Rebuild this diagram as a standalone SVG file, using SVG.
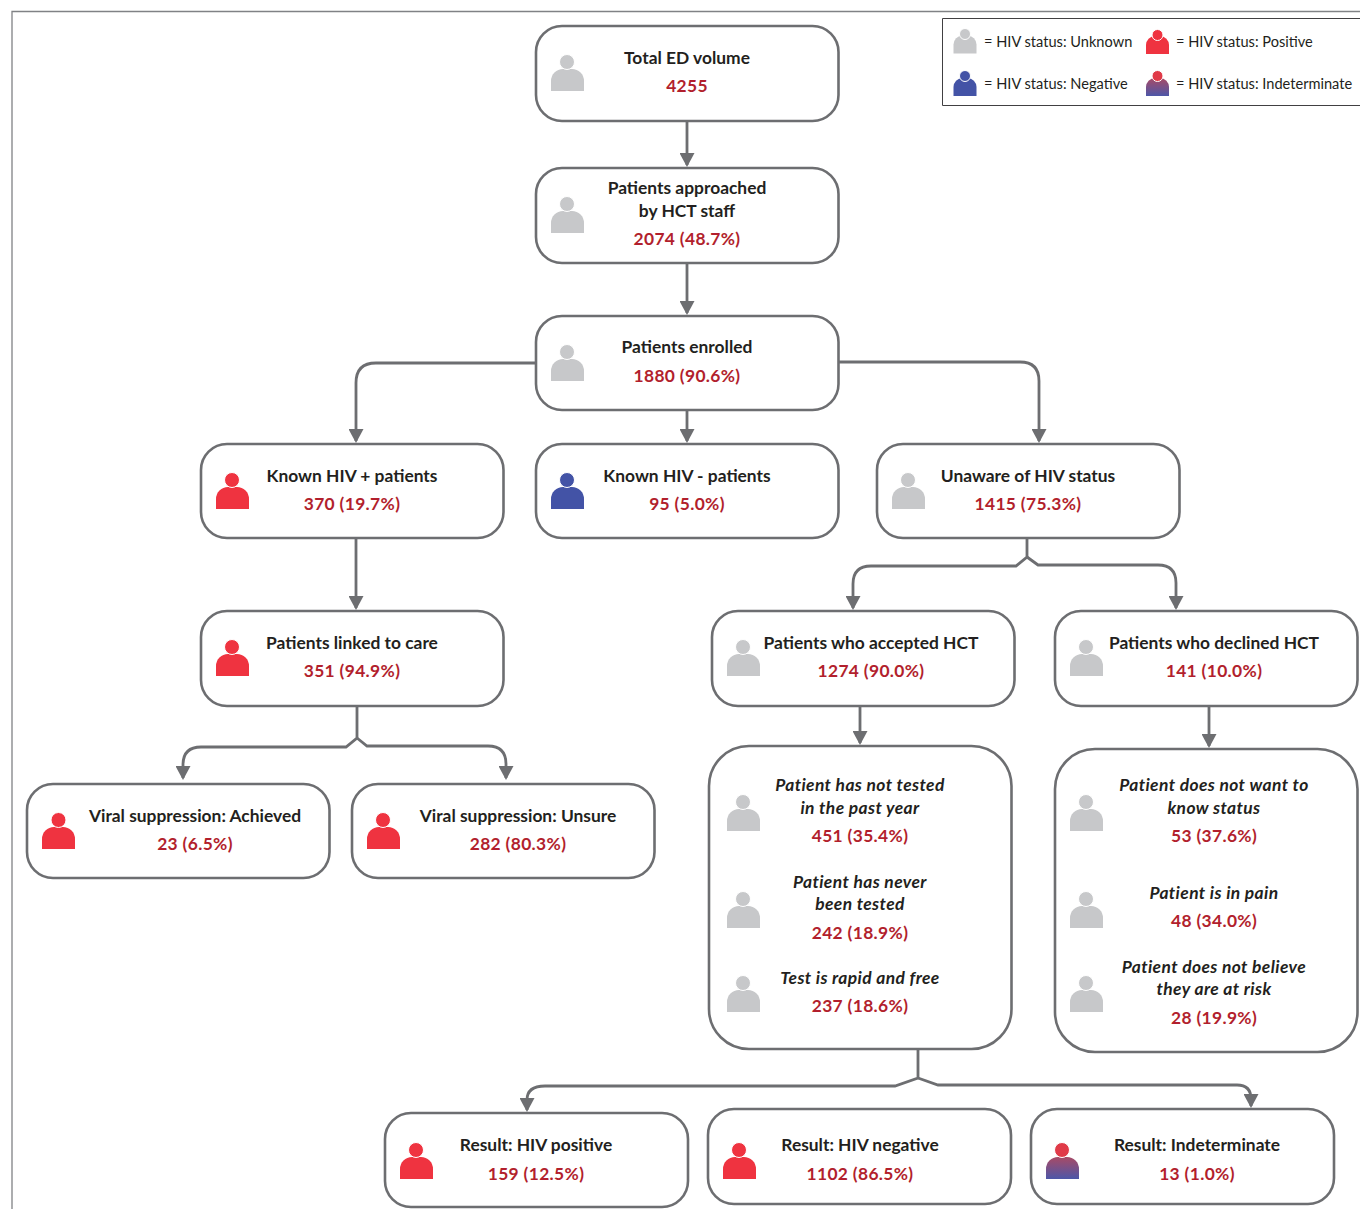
<svg xmlns="http://www.w3.org/2000/svg" width="1360" height="1209" viewBox="0 0 1360 1209">
<style>
.box{fill:#fff;stroke:#6d6e71;stroke-width:2.6}
.t{font-family:"Lato","Liberation Sans",sans-serif;font-size:17.4px;font-weight:700;fill:#231f20;text-anchor:middle}
.i{font-style:italic;letter-spacing:.4px}
.v{font-family:"Lato","Liberation Sans",sans-serif;font-size:17.4px;font-weight:700;fill:#b21f2d;text-anchor:middle;letter-spacing:.35px}
.l{font-family:"Lato","Liberation Sans",sans-serif;font-size:14.6px;fill:#231f20}
.c{fill:none;stroke:#6d6e71;stroke-width:2.8}
.u{fill:#c7c8ca}.p{fill:#ef3340}.n{fill:#4353a6}.x{fill:url(#mix)}
.h{stroke:#fff;stroke-width:1}
</style>
<defs>
<linearGradient id="mix" x1="0" y1="0" x2="0" y2="1"><stop offset="0" stop-color="#a84a66"/><stop offset="1" stop-color="#4d57a8"/></linearGradient>
<marker id="a" markerUnits="userSpaceOnUse" markerWidth="14" markerHeight="15" refX="12" refY="7.500" orient="auto" viewBox="0 0 14 15"><path d="M0 0L14 7.500L0 15Z" fill="#6d6e71"/></marker>
<path id="b" d="M0 36V26A12 12 0 0 1 12 14H21A12 12 0 0 1 33 26V36Z"/>
<path id="s" d="M0 19V10A9 9 0 0 1 9 1H14A9 9 0 0 1 23 10V19Z"/>
</defs>
<path d="M12 1209V11.500H1360" fill="none" stroke="#808285" stroke-width="1.300"/>
<g id="legend">
<path d="M1360 18.500H942.500V105.500H1360" fill="#fff" stroke="#414042" stroke-width="1"/>
<use href="#s" class="u" x="953.500" y="34.500"/><circle class="u h" cx="965" cy="34" r="5.500"/>
<use href="#s" class="p" x="1146" y="35"/><circle class="p h" cx="1157.500" cy="35" r="5.500"/>
<use href="#s" class="n" x="953.500" y="77"/><circle class="n h" cx="965" cy="76" r="5.500"/>
<use href="#s" class="x" x="1146" y="77"/><circle class="h" fill="#e03a48" cx="1157.500" cy="76" r="5.500"/>
<text class="l" x="984" y="47">= HIV status: Unknown</text>
<text class="l" x="1176" y="47">= HIV status: Positive</text>
<text class="l" x="984" y="89">= HIV status: Negative</text>
<text class="l" x="1176" y="89">= HIV status: Indeterminate</text>
</g>
<g id="connectors">
<path class="c" marker-end="url(#a)" d="M687 121V165"/>
<path class="c" marker-end="url(#a)" d="M687 263V313"/>
<path class="c" marker-end="url(#a)" d="M536 363H376Q356 363 356 383V441"/>
<path class="c" marker-end="url(#a)" d="M687 410V441"/>
<path class="c" marker-end="url(#a)" d="M838 362H1020Q1039 362 1039 381V441"/>
<path class="c" marker-end="url(#a)" d="M356 538V608"/>
<path class="c" marker-end="url(#a)" d="M1027 538V557L1016 566H871Q853 566 853 584V608"/>
<path class="c" marker-end="url(#a)" d="M1027 557L1038 565H1158Q1176 565 1176 583V608"/>
<path class="c" marker-end="url(#a)" d="M357 706V738L346 747H201Q183 747 183 765V778"/>
<path class="c" marker-end="url(#a)" d="M357 738L367 746H488Q506 746 506 764V778"/>
<path class="c" marker-end="url(#a)" d="M860 706V743"/>
<path class="c" marker-end="url(#a)" d="M1209 706V746"/>
<path class="c" marker-end="url(#a)" d="M918 1049V1078L895 1086H545Q527 1086 527 1100V1110"/>
<path class="c" marker-end="url(#a)" d="M918 1078L938 1085H1237Q1251 1085 1251 1099V1106"/>
</g>
<g id="n1"><rect class="box" x="536" y="26" width="302.500" height="95" rx="26"/><use href="#b" class="u" x="551" y="55"/><circle class="u h" cx="567" cy="62" r="7.500"/><text class="t" x="687" y="64">Total ED volume</text><text class="v" x="687" y="92">4255</text></g>
<g id="n2"><rect class="box" x="536" y="168" width="302.500" height="95" rx="26"/><use href="#b" class="u" x="551" y="197"/><circle class="u h" cx="567" cy="204" r="7.500"/><text class="t" x="687" y="194">Patients approached</text><text class="t" x="687" y="217">by HCT staff</text><text class="v" x="687" y="245">2074 (48.7%)</text></g>
<g id="n3"><rect class="box" x="536" y="316" width="302.500" height="94" rx="26"/><use href="#b" class="u" x="551" y="345"/><circle class="u h" cx="567" cy="352" r="7.500"/><text class="t" x="687" y="353">Patients enrolled</text><text class="v" x="687" y="382">1880 (90.6%)</text></g>
<g id="n4"><rect class="box" x="201" y="444" width="302.500" height="94" rx="26"/><use href="#b" class="p" x="216" y="473"/><circle class="p h" cx="232" cy="480" r="7.500"/><text class="t" x="352" y="482">Known HIV + patients</text><text class="v" x="352" y="510">370 (19.7%)</text></g>
<g id="n5"><rect class="box" x="536" y="444" width="302.500" height="94" rx="26"/><use href="#b" class="n" x="551" y="473"/><circle class="n h" cx="567" cy="480" r="7.500"/><text class="t" x="687" y="482">Known HIV - patients</text><text class="v" x="687" y="510">95 (5.0%)</text></g>
<g id="n6"><rect class="box" x="877" y="444" width="302.500" height="94" rx="26"/><use href="#b" class="u" x="892" y="473"/><circle class="u h" cx="908" cy="480" r="7.500"/><text class="t" x="1028" y="482">Unaware of HIV status</text><text class="v" x="1028" y="510">1415 (75.3%)</text></g>
<g id="n7"><rect class="box" x="201" y="611" width="302.500" height="95" rx="26"/><use href="#b" class="p" x="216" y="640"/><circle class="p h" cx="232" cy="647" r="7.500"/><text class="t" x="352" y="649">Patients linked to care</text><text class="v" x="352" y="677">351 (94.9%)</text></g>
<g id="n8"><rect class="box" x="712" y="611" width="302.500" height="95" rx="26"/><use href="#b" class="u" x="727" y="640"/><circle class="u h" cx="743" cy="647" r="7.500"/><text class="t" x="871" y="649">Patients who accepted HCT</text><text class="v" x="871" y="677">1274 (90.0%)</text></g>
<g id="n9"><rect class="box" x="1055" y="611" width="302.500" height="95" rx="26"/><use href="#b" class="u" x="1070" y="640"/><circle class="u h" cx="1086" cy="647" r="7.500"/><text class="t" x="1214" y="649">Patients who declined HCT</text><text class="v" x="1214" y="677">141 (10.0%)</text></g>
<g id="n10"><rect class="box" x="27" y="784" width="302.500" height="94" rx="26"/><use href="#b" class="p" x="42" y="813"/><circle class="p h" cx="58.500" cy="820" r="7.500"/><text class="t" x="195" y="822">Viral suppression: Achieved</text><text class="v" x="195" y="850">23 (6.5%)</text></g>
<g id="n11"><rect class="box" x="352" y="784" width="302.500" height="94" rx="26"/><use href="#b" class="p" x="367" y="813"/><circle class="p h" cx="383" cy="820" r="7.500"/><text class="t" x="518" y="822">Viral suppression: Unsure</text><text class="v" x="518" y="850">282 (80.3%)</text></g>
<g id="n12"><rect class="box" x="709" y="746" width="302.500" height="303" rx="40"/>
<use href="#b" class="u" x="727" y="795"/><circle class="u h" cx="743" cy="802" r="7.500"/>
<use href="#b" class="u" x="727" y="892"/><circle class="u h" cx="743" cy="899" r="7.500"/>
<use href="#b" class="u" x="727" y="976"/><circle class="u h" cx="743" cy="983" r="7.500"/>
<text class="t i" x="860" y="791">Patient has not tested</text><text class="t i" x="860" y="814">in the past year</text><text class="v" x="860" y="842">451 (35.4%)</text>
<text class="t i" x="860" y="888">Patient has never</text><text class="t i" x="860" y="910">been tested</text><text class="v" x="860" y="939">242 (18.9%)</text>
<text class="t i" x="860" y="984">Test is rapid and free</text><text class="v" x="860" y="1012">237 (18.6%)</text></g>
<g id="n13"><rect class="box" x="1055" y="749" width="302.500" height="303" rx="40"/>
<use href="#b" class="u" x="1070" y="795"/><circle class="u h" cx="1086" cy="802" r="7.500"/>
<use href="#b" class="u" x="1070" y="892"/><circle class="u h" cx="1086" cy="899" r="7.500"/>
<use href="#b" class="u" x="1070" y="976"/><circle class="u h" cx="1086" cy="983" r="7.500"/>
<text class="t i" x="1214" y="791">Patient does not want to</text><text class="t i" x="1214" y="814">know status</text><text class="v" x="1214" y="842">53 (37.6%)</text>
<text class="t i" x="1214" y="899">Patient is in pain</text><text class="v" x="1214" y="927">48 (34.0%)</text>
<text class="t i" x="1214" y="973">Patient does not believe</text><text class="t i" x="1214" y="995">they are at risk</text><text class="v" x="1214" y="1024">28 (19.9%)</text></g>
<g id="n14"><rect class="box" x="385" y="1113" width="303" height="94" rx="26"/><use href="#b" class="p" x="400" y="1143"/><circle class="p h" cx="416" cy="1150" r="7.500"/><text class="t" x="536" y="1151">Result: HIV positive</text><text class="v" x="536" y="1180">159 (12.5%)</text></g>
<g id="n15"><rect class="box" x="708" y="1109" width="303" height="95" rx="26"/><use href="#b" class="p" x="723" y="1143"/><circle class="p h" cx="739" cy="1150" r="7.500"/><text class="t" x="860" y="1151">Result: HIV negative</text><text class="v" x="860" y="1180">1102 (86.5%)</text></g>
<g id="n16"><rect class="box" x="1031" y="1109" width="303" height="95" rx="26"/><use href="#b" class="x" x="1046" y="1143"/><circle class="h" fill="#e03a48" cx="1062" cy="1150" r="7.500"/><text class="t" x="1197" y="1151">Result: Indeterminate</text><text class="v" x="1197" y="1180">13 (1.0%)</text></g>
</svg>
